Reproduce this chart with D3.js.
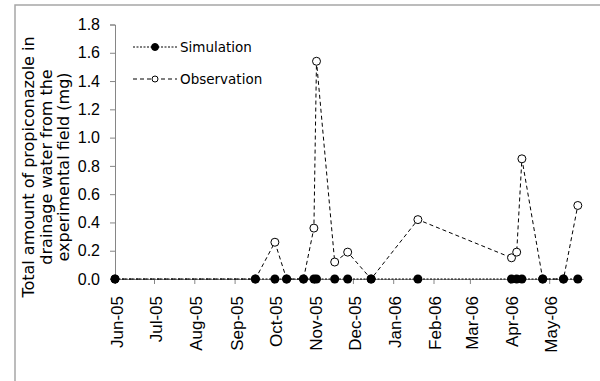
<!DOCTYPE html>
<html>
<head>
<meta charset="utf-8">
<script src="https://cdn.jsdelivr.net/npm/d3@7"></script>
<style>
  body { margin: 0; background: #fff; }
  svg { display: block; }
</style>
</head>
<body>
<div id="chart"></div>
<script>
// sampling dates
var dates = ["2005-06-01", "2005-09-17", "2005-10-02", "2005-10-11", "2005-10-24",
             "2005-11-01", "2005-11-03", "2005-11-17", "2005-11-27", "2005-12-15",
             "2006-01-20", "2006-04-02", "2006-04-06", "2006-04-10", "2006-04-26",
             "2006-05-12", "2006-05-23"];
var simulation = [0, 0, 0, 0, 0, 0, 0, 0, 0, 0, 0, 0, 0, 0, 0, 0, 0];
var observation = [0, 0, 0.26, 0, 0, 0.36, 1.54, 0.12, 0.19, 0, 0.42, 0.15, 0.19, 0.85, 0, 0, 0.52];
var yTicks = [0, 0.2, 0.4, 0.6, 0.8, 1.0, 1.2, 1.4, 1.6, 1.8];
var seriesNames = ["Simulation", "Observation"];
var yTitle = ["Total amount of propiconazole in", "drainage water from the", "experimental field (mg)"];

function init() {
    var w = 600;
    var h = 381;
    var parse = d3.timeParse("%Y-%m-%d");
    var days = dates.map(parse);

    var xScale = d3.scaleTime()
                   .domain([new Date(2005, 5, 1), new Date(2006, 4, 27)])
                   .range([115, 583]);

    var yScale = d3.scaleLinear()
                   .domain([0, 1.8])
                   .range([279, 24.5]);

    var svg = d3.select("#chart")
                .append("svg")
                .attr("width", w)
                .attr("height", h);

    // outer frame
    svg.append("rect")
       .attr("x", 15).attr("y", 5)
       .attr("width", 620).attr("height", 420)
       .attr("fill", "none")
       .attr("stroke", "#a6a6a6")
       .attr("stroke-width", 1.5);

    // y axis
    var yAxis = svg.append("g")
       .attr("transform", "translate(115,0)")
       .call(d3.axisLeft(yScale).tickValues(yTicks).tickFormat(d3.format(".1f"))
               .tickSize(5).tickPadding(10));
    yAxis.select(".domain").attr("stroke", "#868686");
    yAxis.selectAll(".tick line").attr("stroke", "#868686");
    yAxis.selectAll("text")
         .attr("font-family", "Liberation Sans, Arial, sans-serif")
         .attr("font-size", 16)
         .attr("fill", "#000");

    // x axis
    var xAxis = svg.append("g")
       .attr("transform", "translate(0,279)")
       .call(d3.axisBottom(xScale).ticks(d3.timeMonth.every(1))
               .tickFormat(d3.timeFormat("%b-%y")).tickSize(5).tickSizeOuter(0));
    xAxis.select(".domain").attr("stroke", "#868686");
    xAxis.selectAll(".tick line").attr("stroke", "#868686");
    xAxis.selectAll("text")
         .attr("font-family", "Liberation Sans, Arial, sans-serif")
         .attr("font-size", 17)
         .attr("fill", "#000")
         .attr("text-anchor", "end")
         .attr("transform", "rotate(-90)")
         .attr("x", -17)
         .attr("y", 1.5)
         .attr("dy", "0.35em");

    // y title
    svg.append("text")
       .attr("transform", "translate(46,167) rotate(-90)")
       .attr("text-anchor", "middle")
       .attr("font-family", "DejaVu Sans, sans-serif")
       .attr("font-size", 16)
       .selectAll("tspan")
       .data(yTitle)
       .enter()
       .append("tspan")
       .attr("x", 0)
       .attr("y", function(d, i) { return (i - 1) * 17.5 + 5.5; })
       .text(function(d) { return d; });

    var line = function(values) {
        return d3.line()
                 .x(function(d, i) { return xScale(days[i]); })
                 .y(function(d) { return yScale(d); })(values);
    };

    // observation
    svg.append("path")
       .attr("d", line(observation))
       .attr("fill", "none")
       .attr("stroke", "#000")
       .attr("stroke-width", 1)
       .attr("stroke-dasharray", "4,3");
    svg.selectAll("circle.obs")
       .data(observation)
       .enter()
       .append("circle")
       .attr("class", "obs")
       .attr("cx", function(d, i) { return xScale(days[i]); })
       .attr("cy", function(d) { return yScale(d); })
       .attr("r", 4)
       .attr("fill", "#fff")
       .attr("stroke", "#000")
       .attr("stroke-width", 1);

    // simulation
    svg.append("path")
       .attr("d", line(simulation))
       .attr("fill", "none")
       .attr("stroke", "#000")
       .attr("stroke-width", 1)
       .attr("stroke-dasharray", "2,1.5");
    svg.selectAll("circle.sim")
       .data(simulation)
       .enter()
       .append("circle")
       .attr("class", "sim")
       .attr("cx", function(d, i) { return xScale(days[i]); })
       .attr("cy", function(d) { return yScale(d); })
       .attr("r", 4.5)
       .attr("fill", "#000");

    // legend
    var legend = svg.selectAll("g.legend")
       .data(seriesNames)
       .enter()
       .append("g")
       .attr("class", "legend")
       .attr("transform", function(d, i) { return "translate(133," + (47 + i * 32) + ")"; });
    legend.append("line")
       .attr("x1", 0).attr("x2", 44)
       .attr("stroke", "#000")
       .attr("stroke-width", 1)
       .attr("stroke-dasharray", function(d, i) { return i === 0 ? "2,1.5" : "4,3"; });
    legend.append("circle")
       .attr("cx", 22)
       .attr("r", function(d, i) { return i === 0 ? 3.5 : 3; })
       .attr("fill", function(d, i) { return i === 0 ? "#000" : "#fff"; })
       .attr("stroke", "#000");
    legend.append("text")
       .attr("x", 47)
       .attr("dy", "0.35em")
       .attr("font-family", "DejaVu Sans, sans-serif")
       .attr("font-size", 13.5)
       .text(function(d) { return d; });
}
window.onload = init;
</script>
</body>
</html>
